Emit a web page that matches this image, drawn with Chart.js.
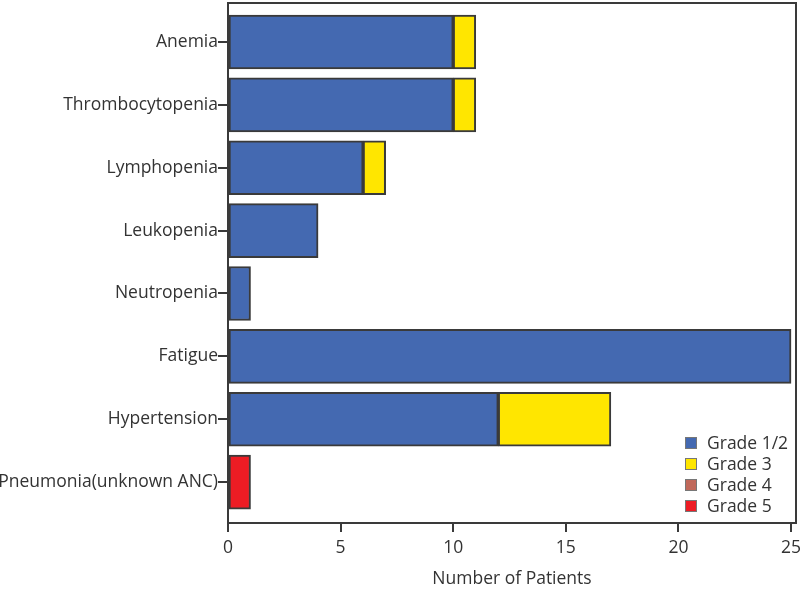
<!DOCTYPE html>
<html>
<head>
<meta charset="utf-8">
<script src="https://cdn.jsdelivr.net/npm/chart.js@4/dist/chart.umd.min.js"></script>
<style>
html,body{margin:0;padding:0;background:#fff;}
#wrap{width:800px;height:590px;position:relative;}
</style>
</head>
<body>
<div id="wrap"><canvas id="c" width="800" height="590"></canvas></div>
<script>
const categories = ["Anemia","Thrombocytopenia","Lymphopenia","Leukopenia","Neutropenia","Fatigue","Hypertension","Pneumonia(unknown ANC)"];
const seriesNames = ["Grade 1/2","Grade 3","Grade 4","Grade 5"];
const grade12 = [10,10,6,4,1,25,12,0];
const grade3  = [1,1,1,0,0,0,5,0];
const grade4  = [0,0,0,0,0,0,0,0];
const grade5  = [0,0,0,0,0,0,0,1];
const xTicks = [0,5,10,15,20,25];
const seriesColors = ["#4469b1","#ffe600","#c0685a","#ed1c24"];

const FONT = "'Open Sans', 'Noto Sans', sans-serif";
const FS = 17.5;
const TXT = "#333333";
const LINE = "#3a3a3a";

function toPts(arr){ return arr.map((v,i)=>({x:v, y:i})).filter(p=>p.x!==0); }
const values = [grade12, grade3, grade4, grade5];
const datasets = seriesNames.map((n,k)=>({
  label:n,
  data:toPts(values[k]),
  backgroundColor:seriesColors[k],
  borderColor:LINE,
  borderWidth:2,
  borderSkipped:false,
  barThickness:54
}));

const framePlugin = {
  id:'frame',
  afterDraw(chart){
    const {ctx, chartArea:a} = chart;
    ctx.save();
    ctx.strokeStyle = LINE;
    ctx.lineWidth = 2;
    ctx.strokeRect(a.left, a.top, a.right-a.left, a.bottom-a.top);
    // legend
    ctx.font = FS + "px " + FONT;
    ctx.textBaseline = 'middle';
    ctx.textAlign = 'left';
    const x0 = 685, y0 = 443, dy = 21;
    chart.data.datasets.forEach((ds,i)=>{
      const y = y0 + i*dy;
      ctx.fillStyle = ds.backgroundColor;
      ctx.fillRect(x0, y-6, 12, 12);
      ctx.strokeStyle = "#777";
      ctx.lineWidth = 1;
      ctx.strokeRect(x0+0.5, y-5.5, 11, 11);
      ctx.fillStyle = TXT;
      ctx.fillText(ds.label, x0+22, y+1);
    });
    ctx.restore();
  }
};

new Chart(document.getElementById('c'), {
  type:'bar',
  data:{datasets},
  plugins:[framePlugin],
  options:{
    indexAxis:'y',
    responsive:false,
    animation:false,
    layout:{autoPadding:false, padding:{top:3,right:4,left:0,bottom:0}},
    plugins:{legend:{display:false}, tooltip:{enabled:false}},
    scales:{
      x:{
        type:'linear', stacked:true, min:0, max:25.22,
        afterBuildTicks(s){ s.ticks = xTicks.map(v=>({value:v})); },
        afterFit(s){ s.height = 67; s.paddingLeft = 0; s.paddingRight = 0; },
        grid:{drawOnChartArea:false, drawTicks:true, tickLength:9, color:LINE, lineWidth:2},
        border:{display:true, color:LINE, width:2},
        ticks:{font:{family:FONT,size:FS}, color:TXT, padding:6, maxRotation:0},
        title:{display:true, text:"Number of Patients", font:{family:FONT,size:FS}, color:TXT, padding:{top:6,bottom:0}}
      },
      y:{
        type:'linear', stacked:true, reverse:true, min:-0.62, max:7.65, offset:false,
        afterBuildTicks(s){ s.ticks = categories.map((c,i)=>({value:i})); },
        afterFit(s){ s.width = 228; s.paddingTop = 0; s.paddingBottom = 0; },
        grid:{offset:false, drawOnChartArea:false, drawTicks:true, tickLength:10, color:LINE, lineWidth:2},
        border:{display:true, color:LINE, width:2},
        ticks:{font:{family:FONT,size:FS}, color:TXT, padding:0, autoSkip:false,
          callback:(v)=>categories[v]}
      }
    }
  }
});
</script>
</body>
</html>
